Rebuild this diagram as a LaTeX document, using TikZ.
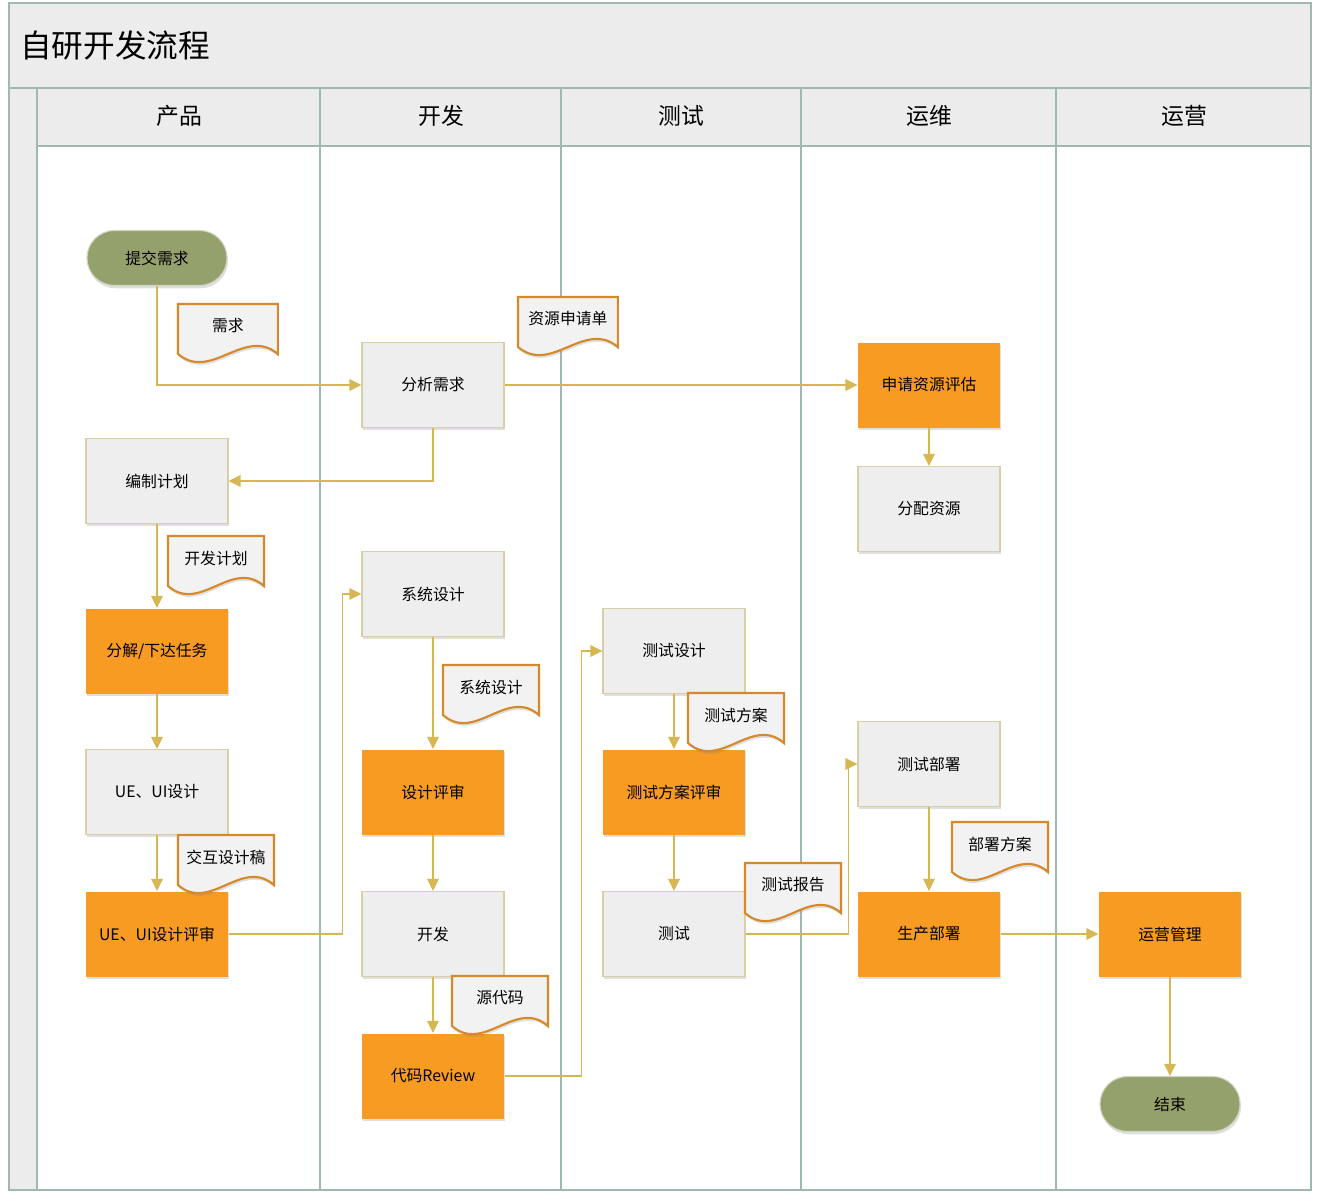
\documentclass[tikz,border=0pt]{standalone}
\usepackage{fontspec}
\setmainfont{Noto Sans CJK SC}
\usepackage{xcolor}
\usepackage{tikz}
\usetikzlibrary{arrows.meta,positioning,shadows}

\definecolor{laneGray}{RGB}{160,184,174}
\definecolor{headGray}{RGB}{236,236,236}
\definecolor{boxGray}{RGB}{238,238,238}
\definecolor{boxEdge}{RGB}{216,206,168}
\definecolor{keyOrange}{RGB}{248,155,34}
\definecolor{termGreen}{RGB}{148,161,108}
\definecolor{termEdge}{RGB}{208,212,192}
\definecolor{docEdge}{RGB}{214,137,42}
\definecolor{docFill}{RGB}{242,242,242}
\definecolor{flowGold}{RGB}{214,183,84}

\begin{document}
\begin{tikzpicture}[
			x=0.2mm,y=-0.2mm,
			% Pool and lanes
			laneLine/.style={
				draw=laneGray,
				line width=0.8pt
			},
			laneTitle/.style={
				font=\fontsize{13}{15}\selectfont
			},
			% Process steps
			taskBox/.style={
				rectangle,
				draw=boxEdge,
				line width=0.6pt,
				fill=boxGray,
				minimum width=28.4mm,
				minimum height=17mm,
				inner sep=0pt,
				font=\fontsize{9}{11}\selectfont,
				drop shadow={shadow xshift=0.6pt,shadow yshift=-1.6pt,opacity=0.25}
			},
			keyTask/.style={
				taskBox,
				draw=none,
				fill=keyOrange
			},
			terminal/.style={
				rectangle,
				rounded corners=5.5mm,
				draw=termEdge,
				line width=0.6pt,
				fill=termGreen,
				minimum width=28mm,
				minimum height=11mm,
				inner sep=0pt,
				font=\fontsize{9}{11}\selectfont,
				drop shadow={shadow xshift=0.6pt,shadow yshift=-1.6pt,opacity=0.25}
			},
			flow/.style={
				-{Triangle[length=2.4mm,width=2.3mm]},
				draw=flowGold,
				line width=0.7pt
			},
			% Document with wavy lower edge
			docNote/.pic={
				\path[
				draw=docEdge,
				line width=1.2pt,
				fill=docFill,
				drop shadow={shadow xshift=0.6pt,shadow yshift=-1.6pt,opacity=0.25}
				]
				(0,0) -- (96,0) -- (96,50)
				.. controls (64,22) and (32,78) .. (0,50) -- cycle;
				\node[font=\fontsize{9}{11}\selectfont] (-label) at (48,22) {\tikzpictext};
			}
			]
			
			\useasboundingbox (0,0) rectangle (1319,1201);
			
			% Pool frame, title band and lane headers
			\fill[headGray] (9,3) rectangle (1311,88);
			\fill[headGray] (37,88) rectangle (1311,146);
			\fill[headGray] (9,88) rectangle (37,1190);
			\draw[laneLine] (9,3) rectangle (1311,1190);
			\draw[laneLine] (9,88) -- (1311,88);
			\draw[laneLine] (37,146) -- (1311,146);
			\foreach \x in {37,320,561,801,1056}
			\draw[laneLine] (\x,88) -- (\x,1190);
			
			\node[
			font=\fontsize{18}{22}\selectfont,
			anchor=west
			] (poolTitle) at (14,45) {自研开发流程};
			
			\node[laneTitle] (laneProduct) at (179,116) {产品};
			\node[laneTitle] (laneDev)     at (441,116) {开发};
			\node[laneTitle] (laneTest)    at (681,116) {测试};
			\node[laneTitle] (laneOps)     at (929,116) {运维};
			\node[laneTitle] (laneRun)     at (1184,116) {运营};
			
			% Product lane
			\node[terminal] (submitReq)  at (157,258) {提交需求};
			\node[taskBox]  (makePlan)   at (157,481) {编制计划};
			\node[keyTask]  (splitTask)  at (157,651) {分解/下达任务};
			\node[taskBox]  (uiDesign)   at (157,792) {UE、UI设计};
			\node[keyTask]  (uiReview)   at (157,934) {UE、UI设计评审};
			
			% Development lane
			\node[taskBox]  (analyzeReq) at (433,385) {分析需求};
			\node[taskBox]  (sysDesign)  at (433,594) {系统设计};
			\node[keyTask]  (designRev)  at (433,792) {设计评审};
			\node[taskBox]  (coding)     at (433,934) {开发};
			\node[keyTask]  (codeReview) at (433,1076) {代码Review};
			
			% Test lane
			\node[taskBox]  (testDesign) at (674,651) {测试设计};
			\node[keyTask]  (planReview) at (674,792) {测试方案评审};
			\node[taskBox]  (testRun)    at (674,934) {测试};
			
			% Operations lane
			\node[keyTask]  (resEval)    at (929,385) {申请资源评估};
			\node[taskBox]  (resAlloc)   at (929,509) {分配资源};
			\node[taskBox]  (testDeploy) at (929,764) {测试部署};
			\node[keyTask]  (prodDeploy) at (929,934) {生产部署};
			
			% Operating lane
			\node[keyTask]  (runMgmt)    at (1170,934) {运营管理};
			\node[terminal] (finish)     at (1170,1104) {结束};
			
			% Documents
			\pic (reqDoc)    at (178,304) [xscale=1.04,pic text=需求] {docNote};
			\pic (resDoc)    at (518,297) [xscale=1.04,pic text=资源申请单] {docNote};
			\pic (planDoc)   at (168,536) [pic text=开发计划] {docNote};
			\pic (uiDoc)     at (178,835) [pic text=交互设计稿] {docNote};
			\pic (sysDoc)    at (443,665) [pic text=系统设计] {docNote};
			\pic (srcDoc)    at (452,976) [pic text=源代码] {docNote};
			\pic (testDoc)   at (688,693) [pic text=测试方案] {docNote};
			\pic (reportDoc) at (745,863) [pic text=测试报告] {docNote};
			\pic (deployDoc) at (952,822) [pic text=部署方案] {docNote};
			
			% Process flow
			\draw[flow] (submitReq.south) |- (analyzeReq.west);
			\draw[flow] (analyzeReq.east) -- (resEval.west);
			\draw[flow] (resEval.south) -- (resAlloc.north);
			\draw[flow] (analyzeReq.south) |- (makePlan.east);
			\draw[flow] (makePlan.south) -- (splitTask.north);
			\draw[flow] (splitTask.south) -- (uiDesign.north);
			\draw[flow] (uiDesign.south) -- (uiReview.north);
			\draw[flow] (uiReview.east) -- ++(114,0) |- (sysDesign.west);
			\draw[flow] (sysDesign.south) -- (designRev.north);
			\draw[flow] (designRev.south) -- (coding.north);
			\draw[flow] (coding.south) -- (codeReview.north);
			\draw[flow] (codeReview.east) -- ++(77,0) |- (testDesign.west);
			\draw[flow] (testDesign.south) -- (planReview.north);
			\draw[flow] (planReview.south) -- (testRun.north);
			\draw[flow] (testRun.east) -- ++(103,0) |- (testDeploy.west);
			\draw[flow] (testDeploy.south) -- (prodDeploy.north);
			\draw[flow] (prodDeploy.east) -- (runMgmt.west);
			\draw[flow] (runMgmt.south) -- (finish.north);
			
		\end{tikzpicture}
\end{document}
